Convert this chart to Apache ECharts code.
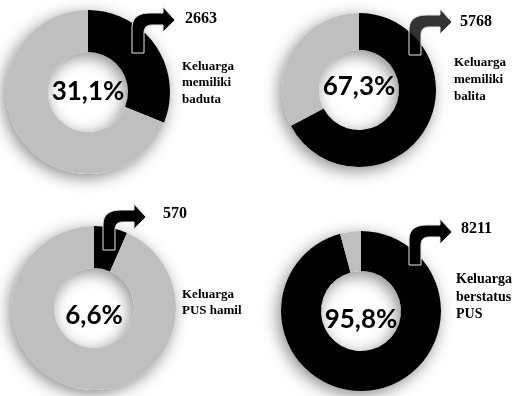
<!DOCTYPE html>
<html>
<head>
<meta charset="utf-8">
<script src="https://cdn.jsdelivr.net/npm/echarts@6/dist/echarts.min.js"></script>
<style>
  html, body { margin: 0; padding: 0; background: #ffffff; }
  #chart { width: 514px; height: 396px; }
</style>
</head>
<body>
<div id="chart"></div>
<script>
// Share of families (percent) in each group
const shares = [31.1, 67.3, 6.6, 95.8];
// Number of families behind each share
const counts = [2663, 5768, 570, 8211];
// Group captions
const captions = [
  'Keluarga\nmemiliki\nbaduta',
  'Keluarga\nmemiliki\nbalita',
  'Keluarga\nPUS hamil',
  'Keluarga\nberstatus\nPUS'
];

// Layout of the four rings
const centers = [[88, 92], [359, 90], [94, 308], [361, 311]];
const outerR = [82, 77, 82, 80];
const innerR = 40;
const centerLabelDy = [0, -3, 8, 9];
const countPos = [[185, 11], [460, 14], [163, 206], [461, 221]];
const captionPos = [[182, 58], [454, 54], [182, 287], [456, 271]];
const captionSize = [13, 13, 13, 14];
const captionLH = [16.5, 17, 16, 17.5];
const arrowPos = [[132, 53], [409, 55], [103, 250], [409, 265]];
const arrowFill = ['#000000', 'rgba(0,0,0,0.8)', '#000000', '#000000'];

const DARK = '#000000';
const LIGHT = '#bfbfbf';
const fmt = v => v.toFixed(1).replace('.', ',') + '%';

const series = [];
shares.forEach((s, i) => {
  // soft drop shadow under the ring
  series.push({
    type: 'pie', silent: true, animation: false, z: 1,
    center: centers[i], radius: [innerR, outerR[i]],
    label: { show: false }, labelLine: { show: false },
    itemStyle: { color: '#ffffff', shadowBlur: 16, shadowColor: 'rgba(0,0,0,0.45)', shadowOffsetX: -3, shadowOffsetY: 4 },
    data: [{ value: 1 }]
  });
  series.push({
    type: 'pie', silent: true, animation: false, z: 2,
    center: centers[i], radius: [innerR, outerR[i]],
    startAngle: 90, clockwise: true,
    labelLine: { show: false },
    label: {
      show: true, position: 'center', offset: [0, centerLabelDy[i]],
      formatter: p => (p.dataIndex === 0 ? fmt(s) : ''),
      fontFamily: 'Lato', fontWeight: 'bold', fontSize: 26, color: '#000000'
    },
    data: [
      { value: s, itemStyle: { color: DARK } },
      { value: +(100 - s).toFixed(1), itemStyle: { color: LIGHT } }
    ]
  });
});

const titles = [];
counts.forEach((c, i) => {
  titles.push({
    text: String(c), left: countPos[i][0], top: countPos[i][1], padding: 0,
    textStyle: { fontFamily: 'Liberation Serif', fontWeight: 'bold', fontSize: 16, color: '#000000' }
  });
  titles.push({
    text: captions[i], left: captionPos[i][0], top: captionPos[i][1], padding: 0,
    textStyle: { fontFamily: 'Liberation Serif', fontWeight: 'bold', fontSize: captionSize[i], lineHeight: captionLH[i], color: '#000000' }
  });
});

// Curved arrow outline: straight stem, rounded bend, arrowhead to the right
function quad(p0, c, p1, n) {
  const pts = [];
  for (let k = 1; k <= n; k++) {
    const t = k / n, u = 1 - t;
    pts.push([u * u * p0[0] + 2 * u * t * c[0] + t * t * p1[0], u * u * p0[1] + 2 * u * t * c[1] + t * t * p1[1]]);
  }
  return pts;
}
const arrowShape = [[0, 0], [0, -25]]
  .concat(quad([0, -25], [0, -40], [18, -40], 10))
  .concat([[31, -40], [31, -46], [43, -33], [31, -21], [31, -28], [20, -28]])
  .concat(quad([20, -28], [12, -28], [12, -20], 8))
  .concat([[12, 0]]);

const graphics = arrowPos.map((p, i) => ({
  type: 'polygon', x: p[0], y: p[1], z: 10, silent: true,
  shape: { points: arrowShape },
  style: { fill: arrowFill[i], stroke: '#e8e8e8', lineWidth: 1 }
}));

const chart = echarts.init(document.getElementById('chart'), null, { renderer: 'canvas' });
chart.setOption({
  backgroundColor: '#ffffff',
  animation: false,
  title: titles,
  series: series,
  graphic: graphics
});
</script>
</body>
</html>
